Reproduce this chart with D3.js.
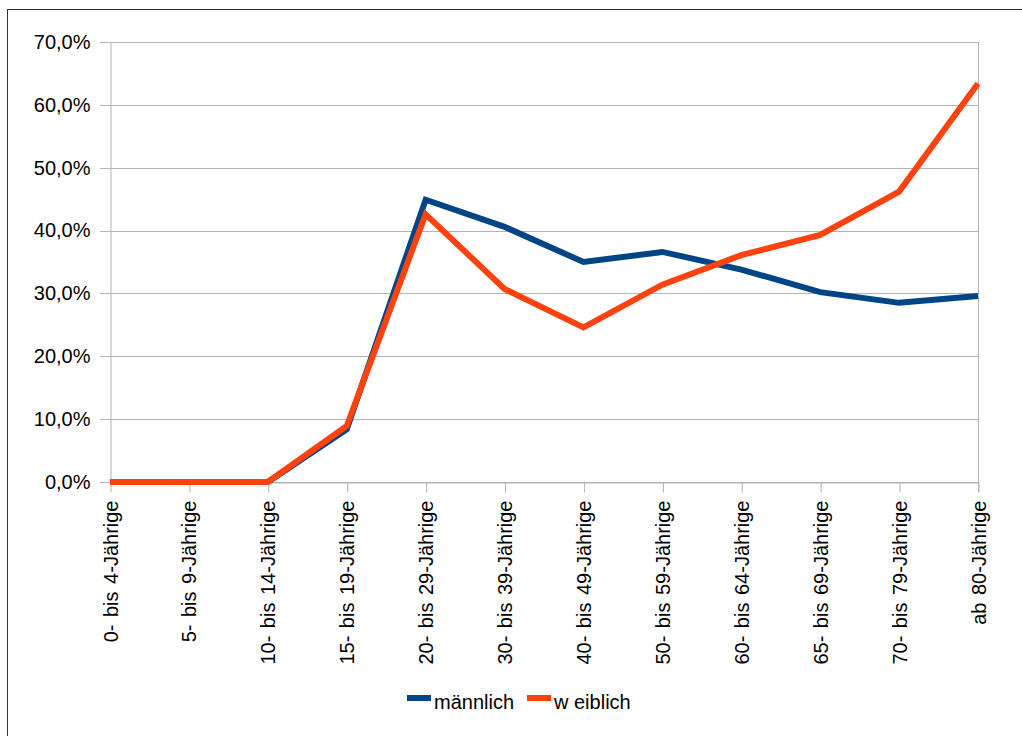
<!DOCTYPE html>
<html>
<head>
<meta charset="utf-8">
<script src="https://cdn.jsdelivr.net/npm/d3@7"></script>
<style>
  html, body { margin: 0; padding: 0; background: #fff; }
  svg { display: block; font-family: "Liberation Sans", Arial, sans-serif; }
</style>
</head>
<body>
<svg id="chart" width="1022" height="736"></svg>
<script>
// Altersgruppen (Kategorien der x-Achse)
const categories = [
  "0- bis 4-Jährige", "5- bis 9-Jährige", "10- bis 14-Jährige", "15- bis 19-Jährige",
  "20- bis 29-Jährige", "30- bis 39-Jährige", "40- bis 49-Jährige", "50- bis 59-Jährige",
  "60- bis 64-Jährige", "65- bis 69-Jährige", "70- bis 79-Jährige", "ab 80-Jährige"
];
// Anteile in Prozent
const maennlich = [0, 0, 0, 8.4, 44.9, 40.6, 35.0, 36.6, 33.8, 30.2, 28.5, 29.6];
const weiblich  = [0, 0, 0, 8.9, 42.6, 30.7, 24.6, 31.4, 36.1, 39.3, 46.2, 63.4];
const yTicks = [0, 10, 20, 30, 40, 50, 60, 70];
const seriesNames = ["männlich", "w eiblich"];
const seriesColors = ["#004586", "#ff420e"];

const svg = d3.select("#chart");
const margin = { left: 110, right: 44, top: 42, bottom: 254 };
const W = 1022, H = 736;
const FONT = 20;

// Rahmen
svg.append("rect")
  .attr("x", 7.5).attr("y", 9.5)
  .attr("width", W + 10).attr("height", H + 10)
  .attr("fill", "none").attr("stroke", "#333").attr("stroke-width", 1);

const x = d3.scalePoint()
  .domain(categories)
  .range([margin.left, W - margin.right]);

const y = d3.scaleLinear()
  .domain([0, 70])
  .range([H - margin.bottom, margin.top]);

const fmt = v => v.toFixed(1).replace(".", ",") + "%";

// Horizontale Gitterlinien
svg.append("g")
  .selectAll("line")
  .data(yTicks)
  .join("line")
  .attr("x1", margin.left - 10)
  .attr("x2", W - margin.right)
  .attr("y1", d => Math.round(y(d)) + 0.5)
  .attr("y2", d => Math.round(y(d)) + 0.5)
  .attr("stroke", "#b3b3b3").attr("stroke-width", 1);

// y-Achse
const yAxis = svg.append("g")
  .attr("transform", `translate(${margin.left + 0.5},0)`)
  .call(d3.axisLeft(y).tickValues(yTicks).tickFormat(fmt).tickSize(0).tickPadding(20));
yAxis.select(".domain").attr("stroke", "#b3b3b3");
yAxis.selectAll("text")
  .attr("font-size", FONT).attr("fill", "#000")
  .attr("font-family", "Liberation Sans, Arial, sans-serif");

// Rechte Begrenzung
svg.append("line")
  .attr("x1", W - margin.right + 0.5).attr("x2", W - margin.right + 0.5)
  .attr("y1", margin.top).attr("y2", y(0) + 10)
  .attr("stroke", "#b3b3b3");

// x-Achse
const xAxis = svg.append("g")
  .attr("transform", `translate(0,${Math.round(y(0)) + 0.5})`)
  .call(d3.axisBottom(x).tickSize(10).tickSizeOuter(0).tickPadding(8));
xAxis.select(".domain").attr("stroke", "#b3b3b3");
xAxis.selectAll(".tick line").attr("stroke", "#b3b3b3");
xAxis.selectAll(".tick line").attr("transform", "translate(0.5,0)");
xAxis.selectAll("text")
  .attr("font-size", FONT).attr("fill", "#000")
  .attr("font-family", "Liberation Sans, Arial, sans-serif")
  .style("word-spacing", "2px")
  .attr("text-anchor", "end")
  .attr("transform", "rotate(-90)")
  .attr("x", -18).attr("y", 0).attr("dy", "0.35em");

// Linien
const line = d3.line()
  .x((d, i) => x(categories[i]))
  .y(d => y(d));

[maennlich, weiblich].forEach((vals, k) => {
  svg.append("path")
    .datum(vals)
    .attr("d", line)
    .attr("fill", "none")
    .attr("stroke", seriesColors[k])
    .attr("stroke-width", 6)
    .attr("stroke-linejoin", "miter");
});

// Legende
const legendItems = [
  { name: seriesNames[0], color: seriesColors[0], x: 407 },
  { name: seriesNames[1], color: seriesColors[1], x: 527 }
];
const lg = svg.append("g");
legendItems.forEach(it => {
  lg.append("rect")
    .attr("x", it.x).attr("y", 695)
    .attr("width", 24).attr("height", 6)
    .attr("fill", it.color);
  lg.append("text")
    .attr("x", it.x + 27).attr("y", 709)
    .attr("font-size", FONT).attr("fill", "#000")
    .style("white-space", "pre")
    .text(it.name);
});
</script>
</body>
</html>
